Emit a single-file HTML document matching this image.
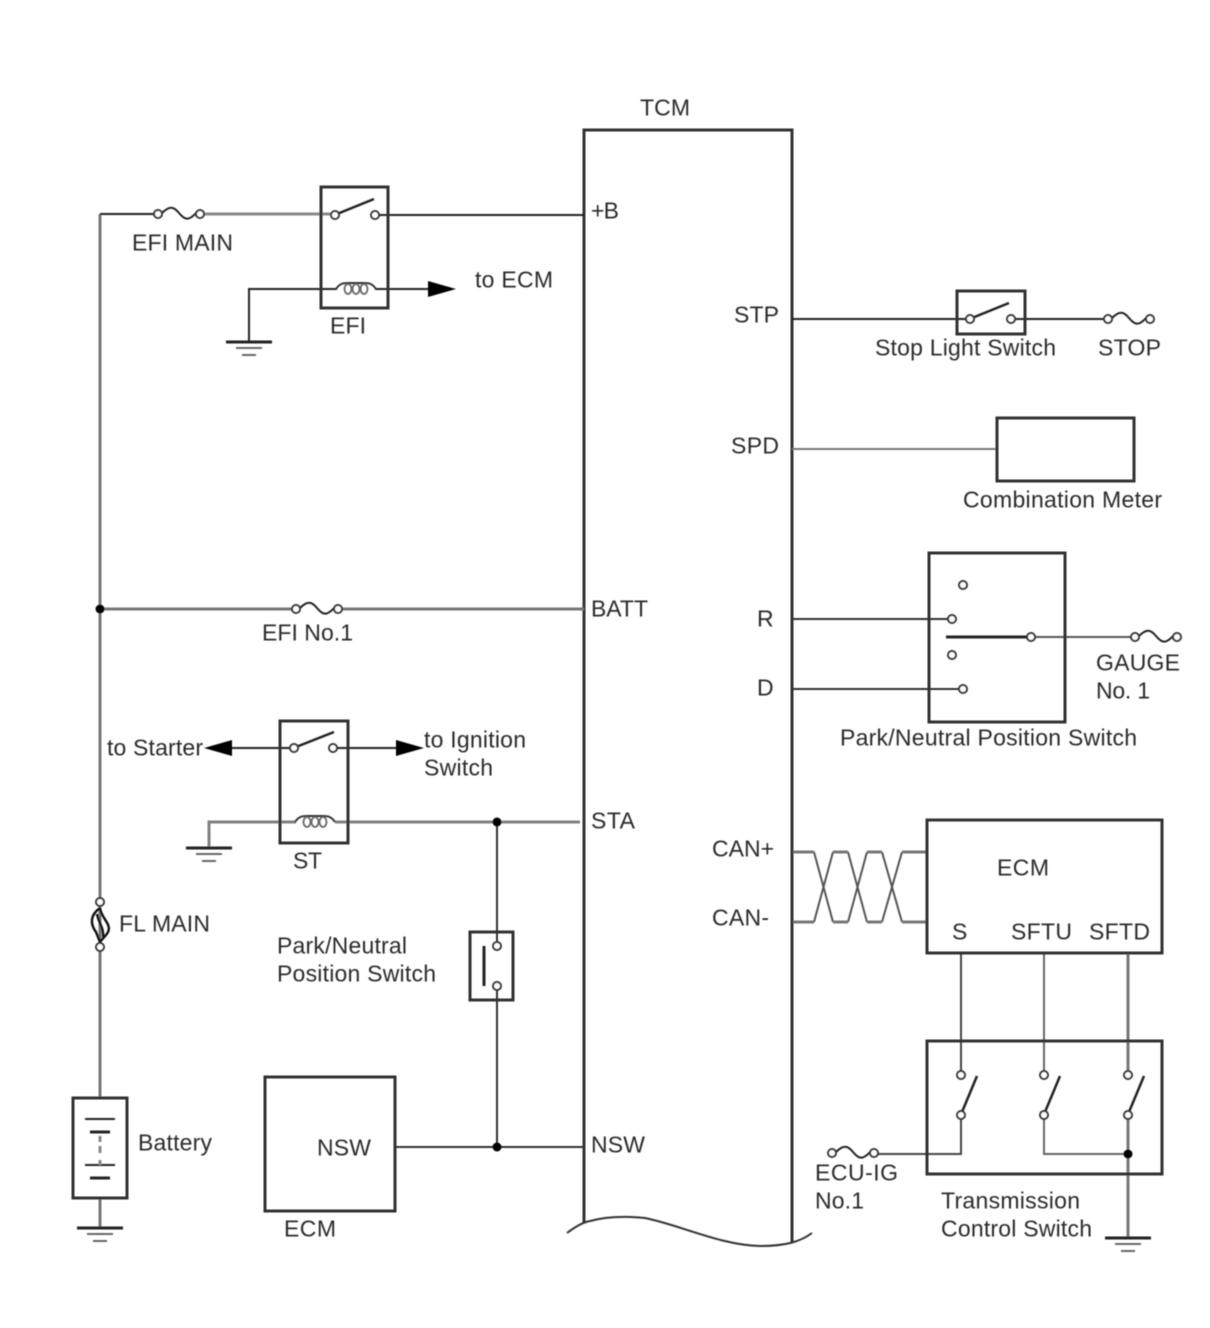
<!DOCTYPE html>
<html><head><meta charset="utf-8"><style>
html,body{margin:0;padding:0;background:#fff}
svg{display:block}
text{font-family:"Liberation Sans",Arial,sans-serif;font-size:23px;fill:#2a2a2a;stroke:none}
</style></head><body>
<svg width="1210" height="1328" viewBox="0 0 1210 1328" xmlns="http://www.w3.org/2000/svg">
<defs>
<filter id="b" x="-2%" y="-2%" width="104%" height="104%"><feGaussianBlur stdDeviation="0.45"/></filter>
<g id="fuse"><path d="M4 -1C12 -9 16 -7 21 -1S30 8 38 -1" fill="none" stroke="#222" stroke-width="2"/><circle cx="0" cy="0" r="4" fill="#fff" stroke="#333" stroke-width="2"/><circle cx="42" cy="0" r="4" fill="#fff" stroke="#333" stroke-width="2"/></g>
<g id="coil" fill="none"><path d="M-20 0C-16 -6 -12 -6 -8 -6H8C12 -6 16 -6 20 0" stroke="#333" stroke-width="2"/><g stroke="#666" stroke-width="1.8"><ellipse cx="-8" cy="0" rx="3.5" ry="5"/><ellipse cx="0" cy="0" rx="3.5" ry="5"/><ellipse cx="8" cy="0" rx="3.5" ry="5"/></g></g>
<g id="gnd" stroke="#222"><path d="M-23 0H23" stroke-width="3"/><path d="M-13 6H13" stroke-width="2" stroke="#666"/><path d="M-7 13H7" stroke-width="2" stroke="#666"/></g>
</defs>
<rect width="1210" height="1328" fill="#fff"/>
<g filter="url(#b)">
<g fill="none" stroke-linecap="butt">
<!-- TCM -->
<path d="M584 1223V130H792V1243" stroke="#333" stroke-width="3"/>
<path d="M567 1233C575 1227 583 1222 590 1221C605 1217 625 1216 645 1218C680 1225 720 1245 760 1246C785 1246 800 1242 812 1233" stroke="#333" stroke-width="2"/>
<!-- rail -->
<path d="M100 214V1098M100 1198V1228" stroke="#777" stroke-width="3"/>
<path d="M100 214H158" stroke="#222" stroke-width="2"/>
<path d="M200 214H335" stroke="#888" stroke-width="3"/>
<path d="M375 215H584" stroke="#222" stroke-width="2"/>
<path d="M249 341V289H337M375 289H430" stroke="#222" stroke-width="2"/>
<path d="M100 609H296M338 609H584" stroke="#777" stroke-width="3"/>
<path d="M209 848V822H296M335 822H580" stroke="#808080" stroke-width="3"/>
<path d="M232 748H294M333 748H396" stroke="#222" stroke-width="2"/>
<path d="M497 822V946M497 986V1147" stroke="#333" stroke-width="2"/>
<path d="M396 1147H584" stroke="#333" stroke-width="2"/>
<!-- right wires -->
<path d="M792 319H970M1011 319H1108" stroke="#222" stroke-width="2"/>
<path d="M792 449H997" stroke="#777" stroke-width="2"/>
<path d="M792 619H952M792 689H963" stroke="#333" stroke-width="2"/>
<path d="M1031 637H1134" stroke="#555" stroke-width="2"/>
<path d="M814 852L833 922M848 922L867 852M882 852L902 922M814 922L833 852M848 852L867 922M882 922L902 852" stroke="#555" stroke-width="2"/>
<path d="M793 852H814M833 852H848M867 852H882M902 852H927M793 922H814M833 922H848M867 922H882M902 922H927" stroke="#777" stroke-width="3"/>
<path d="M961 953V1075M961 1115V1154H874" stroke="#444" stroke-width="2"/>
<path d="M1044 953V1075M1044 1115V1154H1128" stroke="#666" stroke-width="2"/>
<path d="M1128 953V1075M1128 1115V1238" stroke="#777" stroke-width="3"/>
<!-- boxes -->
<g stroke="#333" stroke-width="3">
<rect x="321" y="187" width="67" height="121"/>
<rect x="280" y="721" width="68" height="122"/>
<rect x="470" y="932" width="43" height="68"/>
<rect x="73" y="1098" width="54" height="100"/>
<rect x="265" y="1077" width="130" height="134"/>
<rect x="957" y="291" width="68" height="43"/>
<rect x="997" y="418" width="137" height="63"/>
<rect x="929" y="553" width="136" height="169"/>
<rect x="927" y="820" width="235" height="133"/>
<rect x="927" y="1041" width="235" height="133"/>
</g>
<!-- blades -->
<g stroke="#222" stroke-width="2.5">
<path d="M337 214L374 199"/>
<path d="M296 747L334 732"/>
<path d="M972 318L1009 303"/>
<path d="M484 946V986" stroke-width="3"/>
<path d="M946 637H1027" stroke-width="3"/>
<path d="M962 1112L977 1076M1045 1112L1060 1076M1129 1112L1144 1076"/>
</g>
<!-- battery -->
<g stroke="#222">
<path d="M85 1119H115M85 1165H115" stroke-width="2"/>
<path d="M90 1132H110M90 1178H110" stroke-width="3"/>
<path d="M100 1136V1142M100 1146V1153M100 1160V1165" stroke="#888" stroke-width="3"/>
</g>
<!-- FL MAIN -->
<path d="M100 906V943" stroke="#777" stroke-width="2"/>
<g stroke="#111" stroke-width="2.4">
<path d="M100 908C90 915 90 924 96 932L100 942"/>
<path d="M100 908C101 918 112 924 108 932C106 936 102 939 100 942"/>
<path d="M97 914C99 924 104 928 103 937"/>
</g>
</g>
<use href="#fuse" x="158" y="214"/>
<use href="#fuse" x="296" y="609"/>
<use href="#fuse" x="1108" y="319"/>
<use href="#fuse" x="1135" y="637"/>
<use href="#fuse" x="832" y="1153"/>
<use href="#coil" x="356" y="289"/>
<use href="#coil" x="315" y="822"/>
<use href="#gnd" x="249" y="342"/>
<use href="#gnd" x="209" y="848"/>
<use href="#gnd" x="100" y="1228"/>
<use href="#gnd" x="1128" y="1238"/>
<g fill="#fff" stroke="#333" stroke-width="2">
<circle cx="335" cy="215" r="4"/><circle cx="375" cy="215" r="4"/>
<circle cx="294" cy="748" r="4"/><circle cx="333" cy="748" r="4"/>
<circle cx="100" cy="902" r="4"/><circle cx="100" cy="947" r="4"/>
<circle cx="497" cy="946" r="4"/><circle cx="497" cy="986" r="4"/>
<circle cx="970" cy="319" r="4"/><circle cx="1011" cy="319" r="4"/>
<circle cx="963" cy="585" r="4"/><circle cx="952" cy="619" r="4"/><circle cx="952" cy="655" r="4"/><circle cx="963" cy="689" r="4"/><circle cx="1031" cy="637" r="4"/>
<circle cx="961" cy="1075" r="4"/><circle cx="961" cy="1115" r="4"/>
<circle cx="1044" cy="1075" r="4"/><circle cx="1044" cy="1115" r="4"/>
<circle cx="1128" cy="1075" r="4"/><circle cx="1128" cy="1115" r="4"/>
</g>
<g fill="#000">
<circle cx="100" cy="609" r="4.5"/><circle cx="497" cy="822" r="4.5"/><circle cx="497" cy="1147" r="4.5"/><circle cx="1128" cy="1154" r="4.5"/>
<path d="M428 281L456 289L428 297Z"/>
<path d="M204 748L232 740V756Z"/>
<path d="M396 740L424 748L396 756Z"/>
</g>
<g transform="translate(0,-0.7)">
<text x="640" y="116" textLength="50">TCM</text>
<text x="591" y="219" textLength="28">+B</text>
<text x="475" y="288" textLength="78">to ECM</text>
<text x="132" y="251" textLength="101">EFI MAIN</text>
<text x="330" y="334" textLength="36">EFI</text>
<text x="734" y="323" textLength="45">STP</text>
<text x="875" y="356" textLength="181">Stop Light Switch</text>
<text x="1098" y="356" textLength="63">STOP</text>
<text x="731" y="454" textLength="48">SPD</text>
<text x="963" y="508" textLength="199">Combination Meter</text>
<text x="757" y="627" textLength="17">R</text>
<text x="757" y="696" textLength="17">D</text>
<text x="1096" y="671" textLength="84">GAUGE</text>
<text x="1096" y="699" textLength="54">No. 1</text>
<text x="840" y="746" textLength="297">Park/Neutral Position Switch</text>
<text x="591" y="617" textLength="57">BATT</text>
<text x="262" y="641" textLength="91">EFI No.1</text>
<text x="107" y="756" textLength="96">to Starter</text>
<text x="424" y="748" textLength="102">to Ignition</text>
<text x="424" y="776" textLength="69">Switch</text>
<text x="293" y="869" textLength="29">ST</text>
<text x="591" y="829" textLength="44">STA</text>
<text x="119" y="932" textLength="91">FL MAIN</text>
<text x="277" y="954" textLength="130">Park/Neutral</text>
<text x="277" y="982" textLength="159">Position Switch</text>
<text x="138" y="1151" textLength="74">Battery</text>
<text x="317" y="1156" textLength="54">NSW</text>
<text x="284" y="1237" textLength="52">ECM</text>
<text x="591" y="1153" textLength="54">NSW</text>
<text x="712" y="857" textLength="62">CAN+</text>
<text x="712" y="926" textLength="57">CAN-</text>
<text x="997" y="876" textLength="52">ECM</text>
<text x="952" y="940" textLength="15">S</text>
<text x="1011" y="940" textLength="61">SFTU</text>
<text x="1089" y="940" textLength="61">SFTD</text>
<text x="815" y="1181" textLength="83">ECU-IG</text>
<text x="815" y="1209" textLength="49">No.1</text>
<text x="941" y="1209" textLength="139">Transmission</text>
<text x="941" y="1237" textLength="151">Control Switch</text>
</g>
</g>
</svg>
</body></html>
